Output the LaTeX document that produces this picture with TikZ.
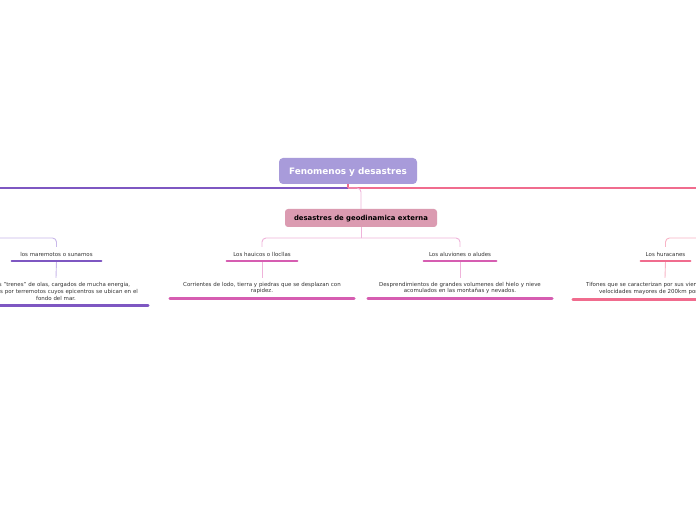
\documentclass[tikz,border=0pt]{standalone}
\usepackage{fontspec}
\setmainfont{DejaVu Sans}
\definecolor{rootc}{HTML}{A89BDA}
\definecolor{subc}{HTML}{DB9BB1}
\definecolor{purplem}{HTML}{7E57C2}
\definecolor{purplel}{HTML}{C9B8EA}
\definecolor{magm}{HTML}{D65DB1}
\definecolor{magl}{HTML}{EFB3DA}
\definecolor{pinkm}{HTML}{F06C8E}
\definecolor{pinkl}{HTML}{F8B4C6}
\definecolor{txt}{HTML}{333333}
\begin{document}
\begin{tikzpicture}[x=1bp,y=-1bp,
  topic/.style={font=\fontsize{5.5}{6}\selectfont, text=txt, inner sep=0pt, minimum height=14bp},
  desc/.style={font=\fontsize{5.5}{7}\selectfont, text=txt, align=center, inner sep=0pt, text width=184bp, minimum width=184bp},
  uline/.style={line width=2.6bp, line cap=round},
  conn/.style={line width=0.9bp, rounded corners=4bp},
  mainline/.style={line width=1.2bp}]
\clip (0,0) rectangle (696,520);
\fill[white] (0,0) rectangle (696,520);

% root and sub
\node[fill=rootc, rounded corners=4bp, minimum width=138bp, minimum height=26bp, inner sep=0pt, text depth=0pt,
  text=white, font=\bfseries\fontsize{8.9}{10}\selectfont] (root) at (348,171) {Fenomenos y desastres};
\node[fill=subc, rounded corners=3bp, minimum width=152bp, minimum height=18bp, inner sep=0pt, text depth=0pt,
  text=black, font=\bfseries\fontsize{6.9}{8}\selectfont] (sub) at (361,218) {desastres de geodinamica externa};

% topics
\node[topic, minimum width=89bp] (mar) at (56.5,254) {los maremotos o sunamos};
\node[topic, minimum width=70bp] (hau) at (262,254) {Los hauicos o llocllas};
\node[topic, minimum width=72bp] (alu) at (460,254) {Los aluviones o aludes};
\node[topic, minimum width=49bp] (hur) at (665.5,254) {Los huracanes};

% descriptions
\node[desc, minimum height=27bp] (mard) at (56,291.5) {Son los "trenes" de olas, cargados de mucha energia,\\generados por terremotos cuyos epicentros se ubican en el\\fondo del mar.};
\node[desc, minimum height=20bp] (haud) at (262,288) {Corrientes de lodo, tierra y piedras que se desplazan con\\rapidez.};
\node[desc, minimum height=20bp] (alud) at (460,288) {Desprendimientos de grandes volumenes del hielo y nieve\\acomulados en las montañas y nevados.};
\node[desc, minimum height=21bp] (hurd) at (665,288.5) {Tifones que se caracterizan por sus vientos que alcanzan\\velocidades mayores de 200km por hora aprox.};

% main branch lines
\coordinate (rj) at (348,188);
\coordinate (lfar) at (-20,188);
\coordinate (rfar) at (720,188);
\draw[mainline, draw=purplem] (rj) -- (lfar);
\draw[mainline, draw=pinkm] (rj) -- (rfar);
\draw[mainline, draw=pinkm] (root.south) -- (rj);
\draw[conn, draw=magl] (rj) -| (sub.north);

% sub to topics
\coordinate (sj) at (361,238);
\draw[conn, draw=magl] (sub.south) -- (sj);
\draw[conn, draw=magl] (sj) -| (hau.north);
\draw[conn, draw=magl] (sj) -| (alu.north);

% off-screen parents
\coordinate (mfar) at (-20,238);
\coordinate (hfar) at (720,238);
\draw[conn, draw=purplel] (mfar) -| (mar.north);
\draw[conn, draw=pinkl] (hfar) -| (hur.north);

% topic to description
\draw[conn, draw=purplel] (mar.south) -- (mard.north);
\draw[conn, draw=magl] (hau.south) -- (haud.north);
\draw[conn, draw=magl] (alu.south) -- (alud.north);
\draw[conn, draw=pinkl] (hur.south) -- (hurd.north);

% underlines
\draw[uline, draw=purplem] (mar.south west) -- (mar.south east);
\draw[uline, draw=magm] (hau.south west) -- (hau.south east);
\draw[uline, draw=magm] (alu.south west) -- (alu.south east);
\draw[uline, draw=pinkm] (hur.south west) -- (hur.south east);
\draw[uline, draw=purplem] (mard.south west) -- (mard.south east);
\draw[uline, draw=magm] (haud.south west) -- (haud.south east);
\draw[uline, draw=magm] (alud.south west) -- (alud.south east);
\draw[uline, draw=pinkm] (hurd.south west) -- (hurd.south east);
\end{tikzpicture}
\end{document}
